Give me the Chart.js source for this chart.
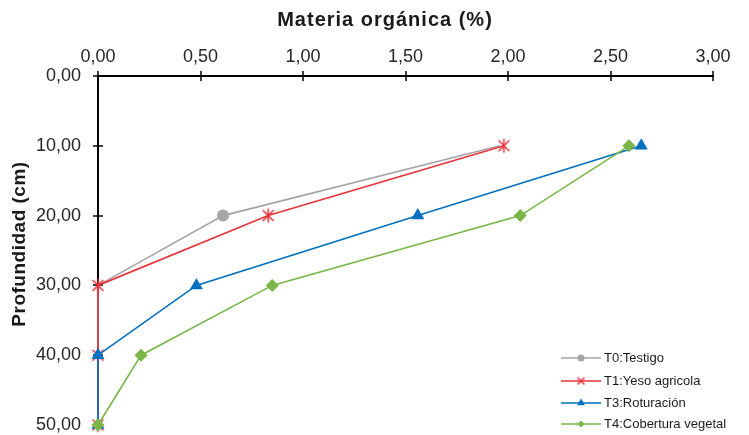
<!DOCTYPE html>
<html>
<head>
<meta charset="utf-8">
<script src="https://cdn.jsdelivr.net/npm/chart.js@4/dist/chart.umd.min.js"></script>
<style>
  html, body { margin: 0; padding: 0; background: #fff; }
  #wrap { width: 749px; height: 435px; }
</style>
</head>
<body>
<div id="wrap"><canvas id="c" width="749" height="435"></canvas></div>
<script>
// Soil depth (cm) and organic matter (%) per treatment
const depths = [10, 20, 30, 40, 50];
const seriesNames = ['T0:Testigo', 'T1:Yeso agricola', 'T3:Roturación', 'T4:Cobertura vegetal'];
const t0Testigo = [1.96, 0.61, 0.00, 0.00, 0.00];
const t1Yeso = [1.98, 0.83, 0.00, 0.00, 0.00];
const t3Roturacion = [2.65, 1.56, 0.48, 0.00, 0.00];
const t4Cobertura = [2.59, 2.06, 0.85, 0.21, 0.00];
const xTicks = [0, 0.5, 1, 1.5, 2, 2.5, 3];
const yTicks = [0, 10, 20, 30, 40, 50];
const xTitle = 'Materia orgánica (%)';
const yTitle = 'Profundidad (cm)';

const FONT = '"Liberation Sans", Arial, sans-serif';
const fmt = v => v.toFixed(2).replace('.', ',');
const toPoints = vals => vals.map((v, i) => ({ x: v, y: depths[i] }));

// Asterisk-like "x" marker (two diagonals plus a vertical stroke)
function starMarker(r, color, lw) {
  const size = Math.ceil(r * 2 + lw * 2);
  const cv = document.createElement('canvas');
  cv.width = size; cv.height = size;
  const g = cv.getContext('2d');
  const c = size / 2;
  const d = r * 0.78;
  g.strokeStyle = color;
  g.lineWidth = lw;
  g.beginPath();
  g.moveTo(c - d, c - d); g.lineTo(c + d, c + d);
  g.moveTo(c + d, c - d); g.lineTo(c - d, c + d);
  g.moveTo(c, c - r); g.lineTo(c, c + r);
  g.stroke();
  return cv;
}
function xMarker(r, color, lw) {
  const size = Math.ceil(r * 2 + lw * 2);
  const cv = document.createElement('canvas');
  cv.width = size; cv.height = size;
  const g = cv.getContext('2d');
  const c = size / 2;
  g.strokeStyle = color;
  g.lineWidth = lw;
  g.beginPath();
  g.moveTo(c - r, c - r); g.lineTo(c + r, c + r);
  g.moveTo(c + r, c - r); g.lineTo(c - r, c + r);
  g.stroke();
  return cv;
}

const RED = '#E8323A';
const styles = [
  { color: '#A5A5A5', pointStyle: 'circle', radius: [0, 6, 0, 0, 0], legend: 'circle', legendRadius: 3.5 },
  { color: RED, pointStyle: starMarker(7, RED, 1.5), radius: 7, legend: xMarker(3.5, RED, 1.6), legendRadius: 4 },
  { color: '#0070C0', pointStyle: 'triangle', radius: 7.5, legend: 'triangle', legendRadius: 4.5 },
  { color: '#7AB648', pointStyle: 'rectRot', radius: 6.5, legend: 'rectRot', legendRadius: 3.5 }
];
const allValues = [t0Testigo, t1Yeso, t3Roturacion, t4Cobertura];

// Later series are painted above earlier ones
const datasets = allValues.map((vals, i) => ({
  label: seriesNames[i],
  data: toPoints(vals),
  order: allValues.length - i,
  borderColor: styles[i].color,
  backgroundColor: styles[i].color,
  borderWidth: 1.6,
  pointStyle: styles[i].pointStyle,
  pointRadius: styles[i].radius,
  pointBorderWidth: 0,
  pointBackgroundColor: styles[i].color,
  showLine: true,
  tension: 0,
  clip: false,
  legendStyle: styles[i].legend,
  legendRadius: styles[i].legendRadius
}));

// Tick marks crossing the axis lines, painted under the series
const crossTicks = {
  id: 'crossTicks',
  beforeDatasetsDraw(chart) {
    const { ctx, scales: { x, y } } = chart;
    ctx.save();
    ctx.strokeStyle = '#000';
    ctx.lineWidth = 1.5;
    xTicks.forEach(v => {
      const px = Math.round(x.getPixelForValue(v));
      ctx.beginPath();
      ctx.moveTo(px, y.top - 5);
      ctx.lineTo(px, y.top + 5);
      ctx.stroke();
    });
    yTicks.forEach(v => {
      const py = Math.round(y.getPixelForValue(v));
      ctx.beginPath();
      ctx.moveTo(x.left - 5, py);
      ctx.lineTo(x.left + 5, py);
      ctx.stroke();
    });
    ctx.restore();
  }
};

// Axis titles
const axisTitles = {
  id: 'axisTitles',
  afterDraw(chart) {
    const { ctx } = chart;
    ctx.save();
    ctx.fillStyle = '#1a1a1a';
    ctx.textAlign = 'center';
    ctx.textBaseline = 'middle';
    ctx.font = 'bold 20px ' + FONT;
    ctx.letterSpacing = '1px';
    ctx.fillText(xTitle, 385, 20);

    ctx.font = 'bold 19px ' + FONT;
    ctx.letterSpacing = '0.5px';
    ctx.translate(20, 244);
    ctx.rotate(-Math.PI / 2);
    ctx.fillText(yTitle, 0, 0);
    ctx.restore();
  }
};

// Legend in the lower right: line sample with marker and label
const lineLegend = {
  id: 'lineLegend',
  afterDraw(chart) {
    const { ctx } = chart;
    const x0 = 561, x1 = 601, textX = 604;
    const rows = [358, 381, 403, 424];
    ctx.save();
    ctx.font = '13px ' + FONT;
    ctx.textBaseline = 'middle';
    chart.data.datasets.forEach((ds, i) => {
      const yy = rows[i];
      ctx.strokeStyle = ds.borderColor;
      ctx.lineWidth = 1.6;
      ctx.beginPath();
      ctx.moveTo(x0, yy);
      ctx.lineTo(x1, yy);
      ctx.stroke();
      ctx.fillStyle = ds.backgroundColor;
      ctx.lineWidth = 0;
      Chart.helpers.drawPoint(ctx, {
        pointStyle: ds.legendStyle,
        radius: ds.legendRadius,
        rotation: 0,
        borderWidth: 0
      }, (x0 + x1) / 2, yy);
      ctx.fillStyle = '#1a1a1a';
      ctx.fillText(ds.label, textX, yy);
    });
    ctx.restore();
  }
};

new Chart(document.getElementById('c'), {
  type: 'scatter',
  data: { datasets },
  options: {
    responsive: false,
    animation: false,
    layout: { padding: { left: 0, right: 36, top: 0, bottom: 10 } },
    plugins: { legend: { display: false }, tooltip: { enabled: false } },
    scales: {
      x: {
        type: 'linear',
        position: 'top',
        min: 0,
        max: 3,
        afterBuildTicks: s => { s.ticks = xTicks.map(v => ({ value: v })); },
        afterFit: s => { s.height = 76; s.paddingLeft = 0; s.paddingRight = 0; },
        ticks: {
          callback: v => fmt(v),
          font: { family: FONT, size: 18 },
          color: '#262626',
          padding: 8,
          maxRotation: 0
        },
        grid: { display: true, drawOnChartArea: false, drawTicks: false, color: '#000' },
        border: { display: true, color: '#000', width: 2 }
      },
      y: {
        type: 'linear',
        reverse: true,
        min: 0,
        max: 50,
        afterBuildTicks: s => { s.ticks = yTicks.map(v => ({ value: v })); },
        afterFit: s => { s.width = 98; s.paddingTop = 0; s.paddingBottom = 0; },
        ticks: {
          callback: v => fmt(v),
          font: { family: FONT, size: 18 },
          color: '#262626',
          padding: 17
        },
        grid: { display: true, drawOnChartArea: false, drawTicks: false, color: '#000' },
        border: { display: true, color: '#000', width: 2 }
      }
    }
  },
  plugins: [crossTicks, axisTitles, lineLegend]
});
</script>
</body>
</html>
